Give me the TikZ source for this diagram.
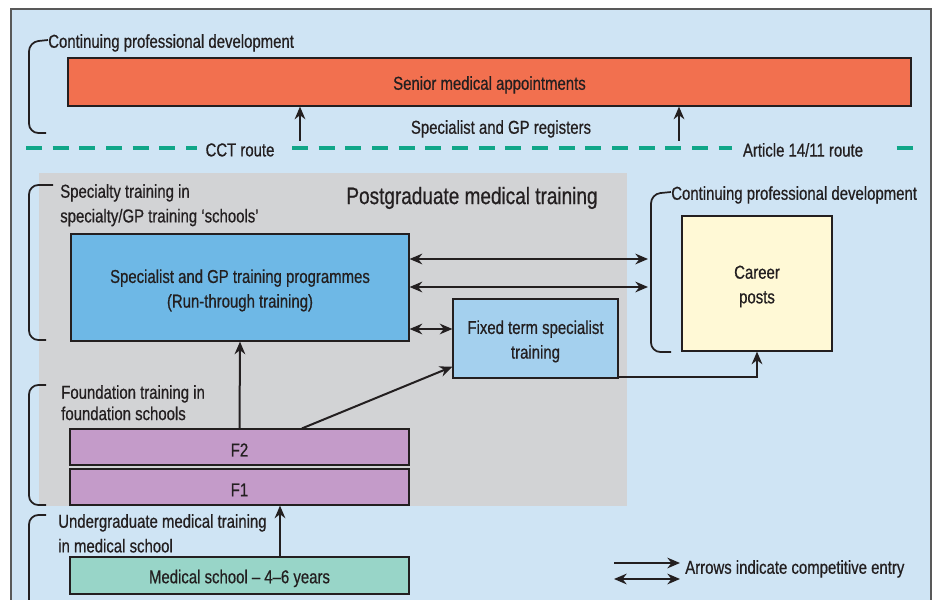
\documentclass[tikz,border=0pt]{standalone}
\usepackage{fontspec}
\setmainfont{Liberation Sans}[FakeStretch=0.8,FakeBold=0.6]
\usetikzlibrary{fit,arrows.meta}
\definecolor{bgblue}{HTML}{CFE4F4}
\definecolor{senior}{HTML}{F2704F}
\definecolor{pgray}{HTML}{D2D3D5}
\definecolor{specblue}{HTML}{6EB8E6}
\definecolor{fixblue}{HTML}{A4D0EE}
\definecolor{careeryel}{HTML}{FFF9D6}
\definecolor{fpurple}{HTML}{C49BC9}
\definecolor{medgreen}{HTML}{98D5C8}
\definecolor{dashgreen}{HTML}{10A688}
\definecolor{txt}{HTML}{231F20}
\tikzset{
  box/.style={draw=txt, line width=0.9pt, inner sep=0pt, align=center, text=txt,
              font=\fontsize{14}{18.5}\selectfont},
  lbl/.style={inner sep=0pt, align=left, text=txt, font=\fontsize{14}{18.5}\selectfont, yshift=-2.2pt},
  arr/.style={draw=txt, line width=1.5pt, -{Stealth[length=9.5pt,width=8pt]}},
  darr/.style={draw=txt, line width=1.5pt, {Stealth[length=9.5pt,width=8pt]}-{Stealth[length=9.5pt,width=8pt]}},
  bracket/.style={draw=txt, line width=1.3pt, rounded corners=7pt},
  routeline/.style={draw=dashgreen, line width=3.4pt, dash pattern=on 12pt off 8pt},
}
\begin{document}
\begin{tikzpicture}[x=0.75pt,y=-0.75pt]
\useasboundingbox (0,0) rectangle (934,599);
\clip (0,0) rectangle (934,599);
\fill[white] (0,0) rectangle (934,599);
\draw[fill=bgblue, draw=black!65, line width=1.1pt] (11,9) rectangle (931,640);

% top bracket
\node[lbl, anchor=west] (cpd1) at (48,40) {Continuing professional development};
\draw[bracket] ([yshift=2.2pt]cpd1.west) -- (29,42) -- (29,133) -- (46,133);

\node[box, fill=senior, fit={(68,58) (911,106)}] (senior) {};
\node[lbl] at (senior.center) {Senior medical appointments};

\node[lbl] (reg) at (501,126) {Specialist and GP registers};
\coordinate (ua) at (300,141);
\coordinate (ub) at (679,141);
\draw[arr] (ua) -- (ua |- senior.south);
\draw[arr] (ub) -- (ub |- senior.south);

% route line
\node[lbl] (cct) at (240,147) {CCT route};
\node[lbl] (art) at (803,147) {Article 14/11 route};
\coordinate (dl) at (26,148);
\coordinate (dr) at (917,148);
\draw[routeline] (dl) -- ([xshift=-6pt]cct.west |- dl);
\draw[routeline] ([xshift=13pt]cct.east |- dl) -- ([xshift=-8pt]art.west |- dl);
\draw[routeline] ([xshift=25pt]art.east |- dl) -- (dr);

% postgraduate area
\fill[pgray] (39,173) rectangle (627,506);
\node[lbl, font=\fontsize{17.8}{20}\selectfont] (pgt) at (472,195) {Postgraduate medical training};

\node[lbl, anchor=north west] (spl) at (60,181) {Specialty training in\\specialty/GP training ‘schools’};
\draw[bracket] (53,185) -- (29,185) -- (29,340) -- (46,340);

\node[box, fill=specblue, fit={(71,234) (409,341)}] (spec) {};
\node[lbl, align=center] at (spec.center) {Specialist and GP training programmes\\(Run-through training)};

\node[box, fill=fixblue, fit={(453,299) (618,378)}] (fixed) {};
\node[lbl, align=center] at (fixed.center) {Fixed term specialist\\training};

\node[lbl, anchor=west] (cpd2) at (671,192) {Continuing professional development};
\draw[bracket] ([yshift=2.2pt]cpd2.west) -- (651,194) -- (651,352) -- (671,352);
\coordinate (b3a) at (648,259);
\coordinate (b3b) at (648,287);

\node[box, fill=careeryel, fit={(682,216) (832,351)}] (career) {};
\node[lbl, align=center] at (career.center) {Career\\posts};

\draw[darr] (spec.east |- b3a) -- (b3a);
\draw[darr] (spec.east |- b3b) -- (b3b);
\coordinate (sy) at (0,329);
\draw[darr] (spec.east |- sy) -- (fixed.west |- sy);
\draw[arr] ([yshift=1.5pt]fixed.south east) -| (career.south);

% foundation
\node[lbl, anchor=north west, font=\fontsize{14}{16}\selectfont] (fnd) at (61,382) {Foundation training in\\foundation schools};
\draw[bracket] (46,385) -- (29,385) -- (29,505) -- (46,505);
\node[box, fill=fpurple, fit={(70,429) (409,465)}] (f2) {};
\node[lbl] at (f2.center) {F2};
\node[box, fill=fpurple, fit={(70,469) (409,505)}] (f1) {};
\node[lbl] at (f1.center) {F1};
\draw[arr] (f2.north) -- (spec.south);
\coordinate (fx) at (302,0);
\draw[arr] (f2.north -| fx) -- ([yshift=9pt]fixed.south west);

% undergraduate
\node[lbl, anchor=north west] (ug) at (58,511) {Undergraduate medical training\\in medical school};
\draw[bracket] (46,515) -- (29,515) -- (29,640);
\node[box, fill=medgreen, fit={(70,557) (409,594)}] (med) {};
\node[lbl] at (med.center) {Medical school -- 4--6 years};
\coordinate (mx) at (280,0);
\draw[arr] (med.north -| mx) -- (f1.south -| mx);

% legend
\coordinate (l1a) at (614,563);
\coordinate (l1b) at (680,563);
\coordinate (l2a) at (614,579);
\coordinate (l2b) at (680,579);
\draw[arr] (l1a) -- (l1b);
\draw[darr] (l2a) -- (l2b);
\node[lbl, anchor=west] (leg) at (685,566) {Arrows indicate competitive entry};
\end{tikzpicture}
\end{document}
